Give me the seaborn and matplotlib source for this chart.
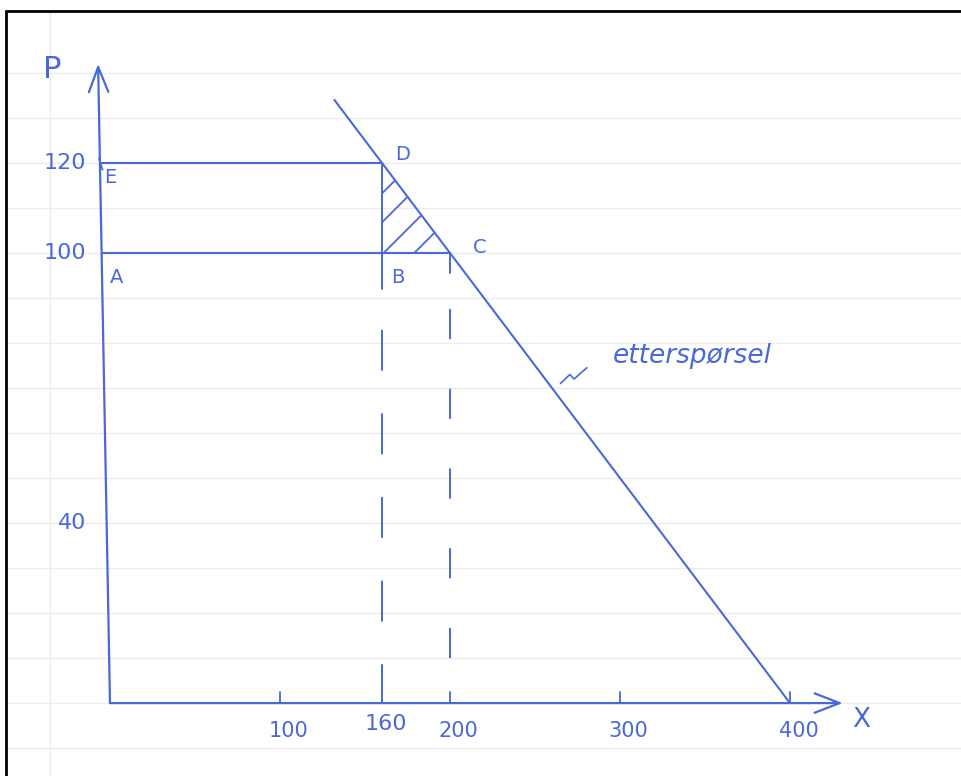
import numpy as np
import seaborn as sns
import matplotlib.pyplot as plt
from matplotlib.patches import Polygon

# values
demand_x = [132, 160, 200, 400]
demand_p = [134, 120, 100, 0]

price_high = 120          # E - D
price_low = 100           # A - C
qty_d = 160               # B / D
qty_c = 200               # C

x_ticks = [100, 200, 300, 400]
x_tick_labels = ['100', '200', '300', '400']
y_tick_vals = [120, 100, 40]
y_tick_labels = ['120', '100', '40']

point_names = ['E', 'A', 'D', 'B', 'C']
point_x = [0, 0, qty_d, qty_d, qty_c]
point_p = [price_high, price_low, price_high, price_low, price_low]
point_offsets = [(0, -15), (7, -25), (21, 8), (16, -25), (30, 5)]  # pixels

paper_lines = list(range(-10, 150, 10))   # ruled lines of the notebook page
hatch_starts = [125, 142, 161, 179]       # where hatch strokes cross P=100
demand_label = 'etterspørsel'
leader_x = [265, 270.5, 273, 280.5]
leader_p = [71, 73, 72, 74.5]

blue = '#4a68d8'
paper = '#ececec'

sns.set_theme(style='white')
plt.rcParams['font.family'] = ['DejaVu Sans']

fig = plt.figure(figsize=(9.61, 7.76), dpi=100)
ax = fig.add_axes([0, 0, 1, 1])
ax.set_xlim(-64.7, 500.6)
ax.set_ylim(-16.2, 156.2)
ax.axis('off')

# notebook page: ruled lines, margin and scan frame
for p in paper_lines:
    ax.axhline(p, xmin=0.006, color=paper, lw=1.0, zorder=0)
ax.axvline(-35.3, ymax=0.986, color=paper, lw=1.0, zorder=0)
ax.plot([0.006, 1], [0.986, 0.986], transform=ax.transAxes, color='black', lw=2.0, clip_on=False)
ax.plot([0.006, 0.006], [0, 0.986], transform=ax.transAxes, color='black', lw=2.0, clip_on=False)

# axes with open arrow heads (y axis leans a little, as drawn)
y_top = (-7, 142)
x_tip = 431
def axis_x(p):
    return y_top[0] * p / y_top[1]

arrow = dict(arrowstyle='->,head_length=0.9,head_width=0.35', lw=1.6, color=blue,
             mutation_scale=20, shrinkA=0, shrinkB=0)
ax.annotate('', xy=y_top, xytext=(0, 0), arrowprops=arrow)
ax.annotate('', xy=(x_tip, 0), xytext=(0, 0), arrowprops=arrow)
ax.text(-34, 140.7, 'P', color=blue, fontsize=22, ha='center', va='center')
ax.text(441.8, -3.8, 'X', color=blue, fontsize=19, ha='center', va='center')

# small tick marks
for xt in x_ticks:
    ax.plot([xt, xt], [0, 2.5], color=blue, lw=1.3)
ax.plot([axis_x(120) - 0.5, axis_x(120) + 1.5], [price_high + 1, price_high - 1.5], color=blue, lw=1.3)

# tick labels
for xt, lab in zip(x_ticks, x_tick_labels):
    ax.text(xt + 5, -4, lab, color=blue, fontsize=15, ha='center', va='top')
ax.text(qty_d + 2, -2.5, '160', color=blue, fontsize=16, ha='center', va='top')
for yv, lab in zip(y_tick_vals, y_tick_labels):
    ax.text(-14, yv, lab, color=blue, fontsize=16, ha='right', va='center')

# demand curve
sns.lineplot(x=demand_x, y=demand_p, color=blue, lw=1.5, ax=ax, sort=False)
ax.plot(leader_x, leader_p, color=blue, lw=1.2)
ax.text(296, 77, demand_label, color=blue, fontsize=19, style='italic', ha='left', va='center')

# price lines E-D and A-C
ax.plot([axis_x(price_high), qty_d], [price_high, price_high], color=blue, lw=1.5)
ax.plot([axis_x(price_low), qty_c], [price_low, price_low], color=blue, lw=1.5)

# verticals from D and C down to the quantity axis
ax.plot([qty_d, qty_d], [price_high, price_low - 8], color=blue, lw=1.4)
ax.plot([qty_d, qty_d], [price_low - 8, 0], color=blue, lw=1.4,
        linestyle=(22, (21, 22)))
ax.plot([qty_c, qty_c], [price_low, price_low - 4.5], color=blue, lw=1.4)
ax.plot([qty_c, qty_c], [price_low - 12.5, 0], color=blue, lw=1.4,
        linestyle=(0, (15.5, 25.5)))

# hatched triangle B-D-C
tri = Polygon([(qty_d, price_low), (qty_d, price_high), (qty_c, price_low)],
              closed=True, fill=False, edgecolor='none')
ax.add_patch(tri)
for x0 in hatch_starts:
    xs = np.array([x0, x0 + 80])
    hl, = ax.plot(xs, price_low + (xs - x0) * 1.7 / 4.5, color=blue, lw=1.3)
    hl.set_clip_path(tri)

# point labels
for name, px, pp, off in zip(point_names, point_x, point_p, point_offsets):
    ax.annotate(name, xy=(px, pp), xytext=off, textcoords='offset pixels',
                color=blue, fontsize=14, ha='center', va='center')

fig.savefig('out.png', dpi=100)
